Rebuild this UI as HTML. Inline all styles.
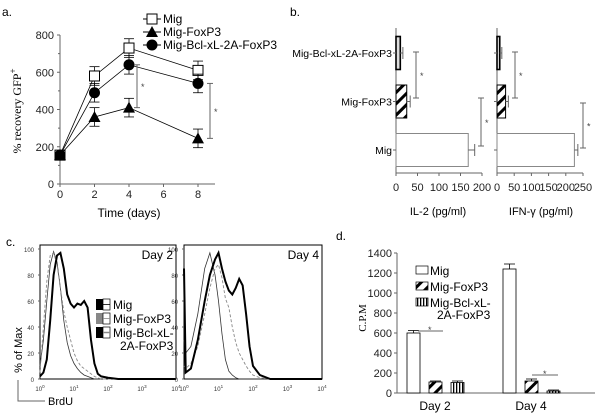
<!DOCTYPE html>
<html><head><meta charset="utf-8"><style>
body{margin:0;background:#fff}
svg{display:block;font-family:"Liberation Sans",sans-serif}
</style></head><body>
<svg id="fig" width="600" height="417" viewBox="0 0 600 417">
<defs>
<pattern id="diag" width="8" height="8" patternUnits="userSpaceOnUse" patternTransform="rotate(45)"><rect width="8" height="8" fill="#fff"/><rect width="3" height="8" fill="#000"/></pattern>
<pattern id="vert" width="3" height="4" patternUnits="userSpaceOnUse"><rect width="3" height="4" fill="#fff"/><rect width="1.3" height="4" fill="#000"/></pattern>
</defs>
<g id="pa"></g>
<g id="pb"></g>
<g id="pc"></g>
<g id="pd"></g>
</svg>
<script>
// ---- Panel a data ----
const aDays=[0,2,4,8];
const aMig=[155,580,730,610];
const aFox=[155,360,410,245];
const aBcl=[155,490,640,540];
const aErr=[20,50,50,50];
const aYTicks=[0,200,400,600,800];
const aXTicks=[0,2,4,6,8];
// ---- Panel b data ----
const bCats=["Mig","Mig-FoxP3","Mig-Bcl-xL-2A-FoxP3"];
const bIL2=[168,25,10];
const bIL2Err=[15,8,6];
const bIFN=[225,25,8];
const bIFNErr=[10,8,6];
const bIL2Ticks=[0,50,100,150,200];
const bIFNTicks=[0,50,100,150,200,250];
// ---- Panel c data ----
const cYTicks=[0,20,40,60,80,100];
const cXTicks=[0,1,2,3,4];
const d2x=[0,0.1,0.2,0.3,0.4,0.5,0.6,0.7,0.8,0.9,1.0,1.1,1.2,1.3,1.4,1.5,1.6,1.7,1.8,2.0,2.3,3,4];
const d2thin=[10,30,60,88,98,90,70,45,28,18,12,8,5,3,2,1,0,0,0,0,0,0,0];
const d2dash=[5,40,75,95,97,88,70,52,40,30,20,14,10,8,6,4,2,1,0,0,0,0,0];
const d2thick=[2,5,15,45,80,95,97,85,65,58,55,58,57,60,55,30,12,4,2,1,0,0,0];
const d4x=[0,0.05,0.2,0.4,0.6,0.75,0.9,1.0,1.1,1.2,1.3,1.4,1.5,1.6,1.7,1.8,1.9,2.0,2.2,2.5,4];
const d4thin=[30,20,25,50,85,97,80,60,35,15,6,3,1,0,0,0,0,0,0,0,0];
const d4dash=[10,8,12,25,50,70,85,88,78,62,55,40,28,20,15,10,6,3,1,0,0];
const d4thick=[85,5,8,30,60,80,92,97,85,75,68,65,70,77,72,50,25,10,3,0,0];
// ---- Panel d data ----
const dGroups=["Day 2","Day 4"];
const dMig=[600,1240];
const dFox=[110,120];
const dBcl=[105,20];
const dMigErr=[25,50];
const dFoxErr=[10,20];
const dBclErr=[15,10];
const dYTicks=[0,200,400,600,800,1000,1200,1400];

const NS="http://www.w3.org/2000/svg";
function mk(parent,tag,attrs,text){const e=document.createElementNS(NS,tag);for(const k in attrs)e.setAttribute(k,attrs[k]);if(text!==undefined)e.textContent=text;parent.appendChild(e);return e;}
const L={stroke:"#000","stroke-width":1,fill:"none"};
const G={stroke:"#666","stroke-width":1,fill:"none"};

// ================= Panel A =================
(function(){
const g=document.getElementById('pa');
const xs=d=>60+d*17.25, ys=v=>184-v*0.18625;
let t=mk(g,'text',{x:2,y:16,'font-size':12},'a.');

mk(g,'line',{x1:60,y1:ys(800),x2:60,y2:184,...G});
mk(g,'line',{x1:60,y1:184,x2:215,y2:184,...G});
aYTicks.forEach(v=>{mk(g,'line',{x1:57,y1:ys(v),x2:60,y2:ys(v),...G});
 const e=mk(g,'text',{x:54,y:ys(v)+4,'font-size':11,'text-anchor':'end',fill:'#222'},v);
 
 if(v<800)mk(g,'line',{x1:58,y1:ys(v+100),x2:60,y2:ys(v+100),...G});});
aXTicks.forEach(d=>{mk(g,'line',{x1:xs(d),y1:184,x2:xs(d),y2:187,...G});
 const e=mk(g,'text',{x:xs(d),y:198,'font-size':11,'text-anchor':'middle',fill:'#222'},d);
 });
t=mk(g,'text',{x:129,y:217,'font-size':12,'text-anchor':'middle'},'Time (days)');

t=mk(g,'text',{transform:'translate(21,111) rotate(-90)','font-size':12,'text-anchor':'middle','font-family':'Liberation Serif'},'% recovery GFP');
mk(t,'tspan',{dy:-5,'font-size':9},'+');

const series=[[aMig,'sq'],[aBcl,'ci'],[aFox,'tr']];
series.forEach(([arr,m])=>{
 mk(g,'polyline',{points:aDays.map((d,i)=>xs(d)+','+ys(arr[i])).join(' '),...L,'stroke-width':0.8});
 aDays.forEach((d,i)=>{const x=xs(d),y=ys(arr[i]),e=aErr[i]*0.18625;
  if(i>0){mk(g,'line',{x1:x,y1:y-e,x2:x,y2:y+e,...L,'stroke-width':0.8});
   mk(g,'line',{x1:x-5,y1:y-e,x2:x+5,y2:y-e,...L,'stroke-width':0.8});mk(g,'line',{x1:x-5,y1:y+e,x2:x+5,y2:y+e,...L,'stroke-width':0.8});}
  let p;
  if(m==='sq')p=mk(g,'rect',{x:x-5,y:y-5,width:10,height:10,fill:'#fff',stroke:'#000'});
  else if(m==='ci')p=mk(g,'circle',{cx:x,cy:y,r:5.5,fill:'#000'});
  else p=mk(g,'polygon',{points:`${x},${y-6} ${x-6},${y+5} ${x+6},${y+5}`,fill:'#000'});
  });});
[[4,aBcl,aFox,137],[8,aBcl,aFox,210]].forEach(([d,hi,lo,x])=>{
 const i=aDays.indexOf(d),y1=ys(hi[i]),y2=ys(lo[i]);
 mk(g,'line',{x1:x,y1:y1,x2:x,y2:y2,...G});mk(g,'line',{x1:x-3,y1:y1,x2:x+3,y2:y1,...G});mk(g,'line',{x1:x-3,y1:y2,x2:x+3,y2:y2,...G});
 mk(g,'text',{x:x+4,y:(y1+y2)/2+4,'font-size':9,fill:'#444'},'*');});
const lg=mk(g,'g',{});
mk(lg,'line',{x1:143,y1:19,x2:161,y2:19,...L});mk(lg,'rect',{x:147,y:14,width:10,height:10,fill:'#fff',stroke:'#000'});
mk(lg,'text',{x:163,y:23,'font-size':12},'Mig');
mk(lg,'line',{x1:143,y1:32,x2:161,y2:32,...L});mk(lg,'polygon',{points:'152,26 146,37 158,37',fill:'#000'});
mk(lg,'text',{x:163,y:36,'font-size':12},'Mig-FoxP3');
mk(lg,'line',{x1:143,y1:45,x2:161,y2:45,...L});mk(lg,'circle',{cx:152,cy:45,r:5.5,fill:'#000'});
mk(lg,'text',{x:163,y:49,'font-size':12},'Mig-Bcl-xL-2A-FoxP3');
})();

// ================= Panel B =================
(function(){
const g=document.getElementById('pb');
let t=mk(g,'text',{x:290,y:16,'font-size':12},'b.');
const cy=i=>150-i*48.5, bh=33;
const fills=['#fff','url(#diag)','#ddd'];
function hbar(x0,scale,vals,errs,ticks,title,tx,sigs){
 mk(g,'line',{x1:x0,y1:28,x2:x0,y2:173,...G});
 mk(g,'line',{x1:x0,y1:173,x2:x0+ticks[ticks.length-1]*scale,y2:173,...G});
 ticks.forEach(v=>{mk(g,'line',{x1:x0+v*scale,y1:173,x2:x0+v*scale,y2:176,...G});
  const e=mk(g,'text',{x:x0+v*scale,y:191,'font-size':11,'text-anchor':'middle',fill:'#222'},v);
  });
 vals.forEach((v,i)=>{const y=cy(i)-bh/2;
  const r=mk(g,'rect',{x:x0,y:y,width:v*scale,height:bh,fill:fills[i],stroke:i===0?'#888':'#000','stroke-width':i===2?1.6:1});
  
  const xe=x0+(v+errs[i])*scale;
  mk(g,'line',{x1:x0+v*scale,y1:cy(i),x2:xe,y2:cy(i),...G});mk(g,'line',{x1:xe,y1:cy(i)-6,x2:xe,y2:cy(i)+6,...G});
  mk(g,'line',{x1:x0-3,y1:cy(i),x2:x0,y2:cy(i),...G});});
 sigs.forEach(([x,y1,y2])=>{mk(g,'line',{x1:x,y1:y1,x2:x,y2:y2,...G});mk(g,'line',{x1:x-3,y1:y1,x2:x+3,y2:y1,...G});mk(g,'line',{x1:x-3,y1:y2,x2:x+3,y2:y2,...G});
  mk(g,'text',{x:x+4,y:(y1+y2)/2+4,'font-size':9,fill:'#444'},'*');});
 t=mk(g,'text',{x:tx,y:215,'font-size':11,'text-anchor':'middle'},title);
}
hbar(396,0.43,bIL2,bIL2Err,bIL2Ticks,'IL-2 (pg/ml)',438,[[416,52,98],[481,98,146]]);
hbar(497,0.344,bIFN,bIFNErr,bIFNTicks,'IFN-γ (pg/ml)',541,[[515,52,98],[583,103,148]]);
bCats.forEach((c,i)=>{const e=mk(g,'text',{x:392,y:cy(i)+4,'font-size':10.5,'text-anchor':'end'},c);});
})();

// ================= Panel C =================
(function(){
const g=document.getElementById('pc');
let t=mk(g,'text',{x:6,y:246,'font-size':12},'c.');
function hist(x0,x1,label,xs,thin,dash,thick){
 const top=245,bot=379,sx=v=>x0+v/4*(x1-x0),sy=v=>bot-v/100*(bot-top-4);
 const f=mk(g,'rect',{x:x0,y:top,width:x1-x0,height:bot-top,fill:'none',stroke:'#000','stroke-width':1});
 
 cYTicks.forEach(v=>{mk(g,'line',{x1:x0-2,y1:sy(v),x2:x0,y2:sy(v),...G});mk(g,'text',{x:x0-6,y:sy(v)+3,'font-size':6,'text-anchor':'end',fill:'#333'},v);});
 cXTicks.forEach(v=>{const e=mk(g,'text',{x:sx(v),y:391,'font-size':6,'text-anchor':'middle',fill:'#333'},'10');mk(e,'tspan',{dy:-3,'font-size':4.5},v);});
 mk(g,'text',{x:x1-3,y:top+14,'font-size':12,'text-anchor':'end'},label);
 [[thin,{stroke:'#333','stroke-width':0.8}],[dash,{stroke:'#888','stroke-width':0.9,'stroke-dasharray':'3,2'}],[thick,{stroke:'#000','stroke-width':2}]].forEach(([arr,st])=>{
  const p=mk(g,'polyline',{points:xs.map((v,i)=>sx(v)+','+sy(arr[i])).join(' '),fill:'none',...st});
  });
}
hist(40,176,'Day 2',d2x,d2thin,d2dash,d2thick);
hist(184,322,'Day 4',d4x,d4thin,d4dash,d4thick);
t=mk(g,'text',{transform:'translate(22,350) rotate(-90)','font-size':11,'text-anchor':'middle'},'% of Max');
mk(g,'polyline',{points:'18,380 18,401 45,401',...G});
t=mk(g,'text',{x:48,y:405,'font-size':11},'BrdU');
const lg=mk(g,'g',{});
[['#000','Mig'],['#888','Mig-FoxP3'],['#000','Mig-Bcl-xL-']].forEach(([c,n],i)=>{const y=299+i*14;
 mk(lg,'rect',{x:96,y:y,width:7,height:11,fill:c});mk(lg,'rect',{x:103,y:y,width:7,height:11,fill:'#fff',stroke:'#000','stroke-width':0.7});
 mk(lg,'line',{x1:103,y1:y+5.5,x2:110,y2:y+5.5,stroke:i===0?'#000':'#888','stroke-width':i===2?1.5:0.8});
 mk(lg,'text',{x:113,y:y+10,'font-size':12},n);});
mk(lg,'text',{x:120,y:350,'font-size':12},'2A-FoxP3');
})();

// ================= Panel D =================
(function(){
const g=document.getElementById('pd');
let t=mk(g,'text',{x:336,y:240,'font-size':12},'d.');
const ys=v=>393-v*0.1;
mk(g,'line',{x1:397,y1:ys(1400),x2:397,y2:393,...G});mk(g,'line',{x1:397,y1:393,x2:595,y2:393,...G});
dYTicks.forEach(v=>{mk(g,'line',{x1:394,y1:ys(v),x2:397,y2:ys(v),...G});
 const e=mk(g,'text',{x:392,y:ys(v)+4,'font-size':11,'text-anchor':'end',fill:'#222'},v);});
t=mk(g,'text',{transform:'translate(366,318) rotate(-90)','font-size':11,'text-anchor':'middle','font-family':'Liberation Serif'},'C.P.M');
const gx=[407,503],off=[0,22,44],w=13,fl=['#fff','url(#diag)','url(#vert)'];
const vals=[dMig,dFox,dBcl],errs=[dMigErr,dFoxErr,dBclErr];
dGroups.forEach((n,gi)=>{
 vals.forEach((arr,si)=>{const x=gx[gi]+off[si],v=arr[gi];
  const r=mk(g,'rect',{x:x,y:ys(v),width:w,height:v*0.1,fill:fl[si],stroke:'#000','stroke-width':0.8});
  
  const ye=ys(v+errs[si][gi]);mk(g,'line',{x1:x+w/2,y1:ys(v),x2:x+w/2,y2:ye,...L,'stroke-width':0.8});mk(g,'line',{x1:x+1,y1:ye,x2:x+w-1,y2:ye,...L,'stroke-width':0.8});});
 const e=mk(g,'text',{x:gx[gi]+28,y:410,'font-size':12,'text-anchor':'middle'},n);});
mk(g,'line',{x1:418,y1:ys(620),x2:443,y2:ys(620),...G});mk(g,'text',{x:428,y:ys(640)+4,'font-size':9,fill:'#444'},'*');
mk(g,'line',{x1:532,y1:ys(180),x2:558,y2:ys(180),...G});mk(g,'text',{x:543,y:ys(200)+4,'font-size':9,fill:'#444'},'*');
const lg=mk(g,'g',{});
[['#fff','Mig'],['url(#diag)','Mig-FoxP3'],['url(#vert)','Mig-Bcl-xL-']].forEach(([c,n],i)=>{const y=266+i*16;
 mk(lg,'rect',{x:416,y:y,width:12,height:8,fill:c,stroke:'#000','stroke-width':0.7});mk(lg,'text',{x:430,y:y+9,'font-size':12},n);});
mk(lg,'text',{x:437,y:319,'font-size':12},'2A-FoxP3');
})();
</script>
</body></html>
